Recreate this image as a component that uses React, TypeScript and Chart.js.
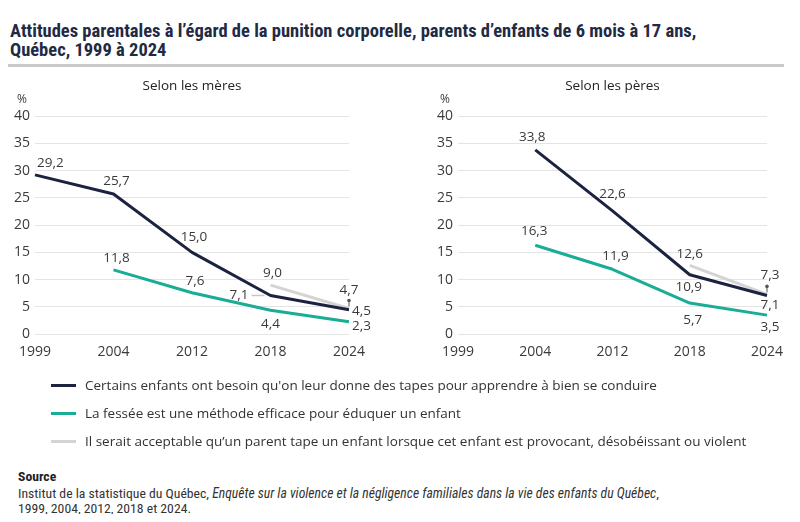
import React, { useEffect, useRef } from "react";
import { Chart, registerables } from "chart.js";
Chart.register(...registerables);

const years = ["1999", "2004", "2012", "2018", "2024"];
const meresTapes = [29.2, 25.7, 15.0, 7.1, 4.5];
const meresFessee = [null, 11.8, 7.6, 4.4, 2.3];
const meresAcceptable = [null, null, null, 9.0, 4.7];
const peresTapes = [null, 33.8, 22.6, 10.9, 7.1];
const peresFessee = [null, 16.3, 11.9, 5.7, 3.5];
const peresAcceptable = [null, null, null, 12.6, 7.3];
const yMin = 0;
const yMax = 40;
const yStep = 5;

const seriesNames = [
  "Certains enfants ont besoin qu'on leur donne des tapes pour apprendre à bien se conduire",
  "La fessée est une méthode efficace pour éduquer un enfant",
  "Il serait acceptable qu’un parent tape un enfant lorsque cet enfant est provocant, désobéissant ou violent",
];
const seriesColors = ["#1b2340", "#19ad95", "#d4d4d4"];

const FONT = '"Open Sans", sans-serif';
const TEXT = "#3a3a3a";

type Off = [number, number, CanvasTextAlign] | null;

const meresOffsets: Off[][] = [
  [[2, -12, "left"], [3, -13, "center"], [2, -15, "center"], [-22, 0, "right"], [3, 2, "left"]],
  [null, [3, -12, "center"], [3, -12, "center"], [0, 14, "center"], [3, 5, "left"]],
  [null, null, null, [2, -12, "center"], [0, -18, "center"]],
];
const peresOffsets: Off[][] = [
  [null, [-3, -13, "center"], [0, -17, "center"], [-1, 12, "center"], [3, 10, "center"]],
  [null, [-1, -14, "center"], [3, -13, "center"], [3, 17, "center"], [3, 12, "center"]],
  [null, null, null, [0, -11, "center"], [3, -19, "center"]],
];

type Leader = { ds: number; i: number; kind: "h" | "v" };
const meresLeaders: Leader[] = [
  { ds: 0, i: 3, kind: "h" },
  { ds: 2, i: 4, kind: "v" },
];
const peresLeaders: Leader[] = [{ ds: 2, i: 4, kind: "v" }];

const fmt = (v: number) => v.toFixed(1).replace(".", ",");

function makePlugin(title: string, offsets: Off[][], leaders: Leader[]) {
  return {
    id: "customLabels",
    afterDatasetsDraw(chart: any) {
      const ctx: CanvasRenderingContext2D = chart.ctx;
      const a = chart.chartArea;
      ctx.save();
      ctx.textBaseline = "middle";
      ctx.fillStyle = "#222";
      ctx.font = `13.5px ${FONT}`;
      ctx.textAlign = "center";
      ctx.fillText(title, (a.left + a.right) / 2, 10);
      ctx.fillStyle = TEXT;
      ctx.font = `12px ${FONT}`;
      ctx.textAlign = "left";
      ctx.fillText("%", a.left - 18, a.top - 16);

      leaders.forEach((l) => {
        const p = chart.getDatasetMeta(l.ds).data[l.i];
        if (!p) return;
        if (l.kind === "h") {
          ctx.strokeStyle = "#c8c8c8";
          ctx.lineWidth = 1.5;
          ctx.beginPath();
          ctx.moveTo(p.x - 19, p.y);
          ctx.lineTo(p.x - 6, p.y);
          ctx.stroke();
        } else {
          ctx.strokeStyle = "#555";
          ctx.fillStyle = "#555";
          ctx.lineWidth = 1;
          ctx.beginPath();
          ctx.moveTo(p.x, p.y - 2);
          ctx.lineTo(p.x, p.y - 8);
          ctx.stroke();
          ctx.beginPath();
          ctx.arc(p.x, p.y - 8, 1.8, 0, Math.PI * 2);
          ctx.fill();
        }
      });

      ctx.fillStyle = TEXT;
      ctx.font = `13.5px ${FONT}`;
      chart.data.datasets.forEach((ds: any, di: number) => {
        const meta = chart.getDatasetMeta(di);
        ds.data.forEach((v: number | null, i: number) => {
          const o = offsets[di][i];
          if (v == null || !o) return;
          const p = meta.data[i];
          ctx.textAlign = o[2];
          ctx.fillText(fmt(v), p.x + o[0], p.y + o[1]);
        });
      });
      ctx.restore();
    },
  };
}

function LineChart(props: {
  series: (number | null)[][];
  title: string;
  offsets: Off[][];
  leaders: Leader[];
  padLeft: number;
  padRight: number;
}) {
  const ref = useRef<HTMLCanvasElement>(null);
  useEffect(() => {
    if (!ref.current) return;
    const chart = new Chart(ref.current, {
      type: "line",
      data: {
        labels: years,
        datasets: props.series.map((d, k) => ({
          label: seriesNames[k],
          data: d,
          borderColor: seriesColors[k],
          backgroundColor: seriesColors[k],
          borderWidth: 3,
          pointRadius: 0,
          pointHoverRadius: 0,
          tension: 0,
          borderJoinStyle: "round" as const,
          borderCapStyle: "butt" as const,
          spanGaps: false,
        })),
      },
      options: {
        responsive: false,
        animation: false,
        layout: { padding: { top: 40, left: props.padLeft, right: props.padRight, bottom: 8 } },
        plugins: {
          legend: { display: false },
          title: { display: false },
          tooltip: { enabled: false },
        },
        scales: {
          x: {
            offset: false,
            grid: { display: false, drawTicks: false },
            border: { display: false },
            ticks: { color: TEXT, font: { family: FONT, size: 14 }, padding: 9, maxRotation: 0, autoSkip: false },
          },
          y: {
            min: yMin,
            max: yMax,
            afterFit: (s: any) => {
              s.width = 27;
            },
            grid: { color: "#e4e4e4", lineWidth: 1, drawTicks: false },
            border: { display: false },
            ticks: { stepSize: yStep, color: TEXT, font: { family: FONT, size: 14 }, padding: 5 },
          },
        },
      },
      plugins: [makePlugin(props.title, props.offsets, props.leaders)],
    } as any);
    return () => chart.destroy();
  }, []);
  return <canvas ref={ref} width={392} height={301} style={{ width: 392, height: 301, display: "block" }} />;
}

export default function App() {
  const cond: React.CSSProperties = { fontFamily: '"Roboto Condensed", "Liberation Sans Narrow", Roboto, sans-serif', fontStretch: "condensed" };
  return (
    <div style={{ position: "relative", width: 784, height: 506, background: "#fff", fontFamily: FONT }}>
      <div style={{ ...cond, position: "absolute", left: 2, top: 14, fontSize: 18.5, lineHeight: "19px", fontWeight: 700, color: "#1f2a44", width: 780 }}>
        Attitudes parentales à l’égard de la punition corporelle, parents d’enfants de 6 mois à 17 ans,
        <br />
        Québec, 1999 à 2024
      </div>
      <div style={{ position: "absolute", left: 0, top: 56, width: 776, height: 3, background: "#c9c9c9" }} />
      <div style={{ position: "absolute", left: 0, top: 68 }}>
        <LineChart series={[meresTapes, meresFessee, meresAcceptable]} title="Selon les mères" offsets={meresOffsets} leaders={meresLeaders} padLeft={0} padRight={51} />
      </div>
      <div style={{ position: "absolute", left: 392, top: 68 }}>
        <LineChart series={[peresTapes, peresFessee, peresAcceptable]} title="Selon les pères" offsets={peresOffsets} leaders={peresLeaders} padLeft={31} padRight={23} />
      </div>
      {seriesNames.map((n, k) => (
        <div key={k} style={{ position: "absolute", left: 43, top: 367 + k * 28, height: 20, display: "flex", alignItems: "center" }}>
          <div style={{ width: 25, height: 3, background: seriesColors[k], marginRight: 9 }} />
          <div style={{ fontSize: 13.5, color: "#333", whiteSpace: "nowrap" }}>{n}</div>
        </div>
      ))}
      <div style={{ ...cond, position: "absolute", left: 10, top: 461, fontSize: 13.7, lineHeight: "15px", color: "#333" }}>
        <div style={{ fontWeight: 700, color: "#222", marginBottom: 2 }}>Source</div>
        <div>
          Institut de la statistique du Québec, <i>Enquête sur la violence et la négligence familiales dans la vie des enfants du Québec</i>,
        </div>
        <div>1999, 2004, 2012, 2018 et 2024.</div>
      </div>
    </div>
  );
}
